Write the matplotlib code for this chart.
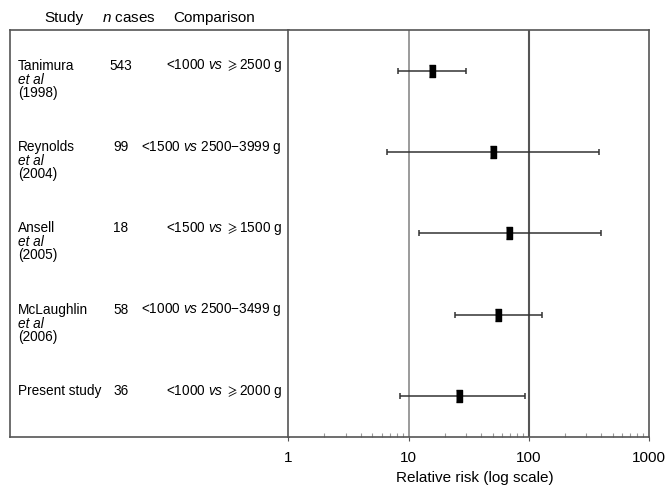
import matplotlib
matplotlib.use("Agg")
import matplotlib.pyplot as plt

plt.rcParams['font.family'] = ['Liberation Sans', 'DejaVu Sans']
plt.rcParams['mathtext.fontset'] = 'custom'
plt.rcParams['mathtext.rm'] = 'Liberation Sans'
plt.rcParams['mathtext.it'] = 'Liberation Sans:italic'
plt.rcParams['mathtext.fallback'] = 'stixsans'

# data (top to bottom)
studies = ["Tanimura", "Reynolds", "Ansell", "McLaughlin", "Present study"]
years = ["(1998)", "(2004)", "(2005)", "(2006)", ""]
n_cases = ["543", "99", "18", "58", "36"]
comparisons = [r"<1000 $\mathit{vs}$ $\geqslant$2500 g",
               r"<1500 $\mathit{vs}$ 2500$-$3999 g",
               r"<1500 $\mathit{vs}$ $\geqslant$1500 g",
               r"<1000 $\mathit{vs}$ 2500$-$3499 g",
               r"<1000 $\mathit{vs}$ $\geqslant$2000 g"]
rr = [15.7, 50.8, 68.6, 55.6, 26.3]
ci_low = [8.1, 6.6, 12.2, 24.2, 8.55]
ci_high = [30.1, 385, 402, 129, 93.7]

W, H = 666, 487
fig = plt.figure(figsize=(W / 100, H / 100), dpi=100)

# left table panel and right forest panel, sharing row positions
axt = fig.add_axes([10 / W, 50 / H, 279 / W, 407 / H])
axf = fig.add_axes([288.3 / W, 50 / H, 360.7 / W, 407 / H])

rows = list(range(len(studies), 0, -1))
px = 81.4  # pixels per row unit

edge = '#555555'
for ax in (axt, axf):
    ax.set_ylim(0.5, len(studies) + 0.5)
    for s in ax.spines.values():
        s.set_color(edge)
        s.set_linewidth(1.2)

# table
axt.set_xlim(10, 289)
axt.set_xticks([])
axt.set_yticks([])
axt.spines['right'].set_visible(False)
top = len(studies) + 0.5
axt.text(64, top + 12 / px, "Study", ha='center', va='center', fontsize=11, clip_on=False)
axt.text(129, top + 12 / px, r"$\mathit{n}$ cases", ha='center', va='center', fontsize=11, clip_on=False)
axt.text(214, top + 12 / px, "Comparison", ha='center', va='center', fontsize=11, clip_on=False)
fs = 9.8
for y, name, yr, n, comp in zip(rows, studies, years, n_cases, comparisons):
    y0 = y + 5 / px
    axt.text(18, y0, name, ha='left', va='center', fontsize=fs)
    if yr:
        axt.text(18, y0 - 14 / px, "et al", ha='left', va='center', fontsize=fs, style='italic')
        axt.text(18, y0 - 27 / px, yr, ha='left', va='center', fontsize=fs)
    axt.text(121, y0, n, ha='center', va='center', fontsize=fs)
    axt.text(282, y0, comp, ha='right', va='center', fontsize=fs)

# forest
axf.set_xscale('log')
axf.set_xlim(1, 1000)
axf.set_yticks([])
axf.axvline(10, color='#8a8a8a', lw=1.2, zorder=1)
axf.axvline(100, color='#555555', lw=1.5, zorder=1)
err = [[r - l for r, l in zip(rr, ci_low)], [h - r for r, h in zip(rr, ci_high)]]
axf.errorbar(rr, rows, xerr=err, fmt='none', ecolor='#333333', elinewidth=1.1,
             capsize=2.5, capthick=1.1, zorder=2)
axf.plot(rr, rows, linestyle='none', marker=[(-0.6, -1), (0.6, -1), (0.6, 1), (-0.6, 1)],
         markersize=8, color='black', zorder=3)
axf.set_xticks([1, 10, 100, 1000])
axf.set_xticklabels(["1", "10", "100", "1000"])
axf.tick_params(axis='x', which='major', direction='out', length=3, pad=7, labelsize=11, color=edge)
axf.tick_params(axis='x', which='minor', direction='in', length=3, width=0.8, color='#999999')
axf.set_xlabel("Relative risk (log scale)", fontsize=11)
axf.xaxis.set_label_coords(0.518, -0.084)

fig.savefig("out.png", dpi=100)
